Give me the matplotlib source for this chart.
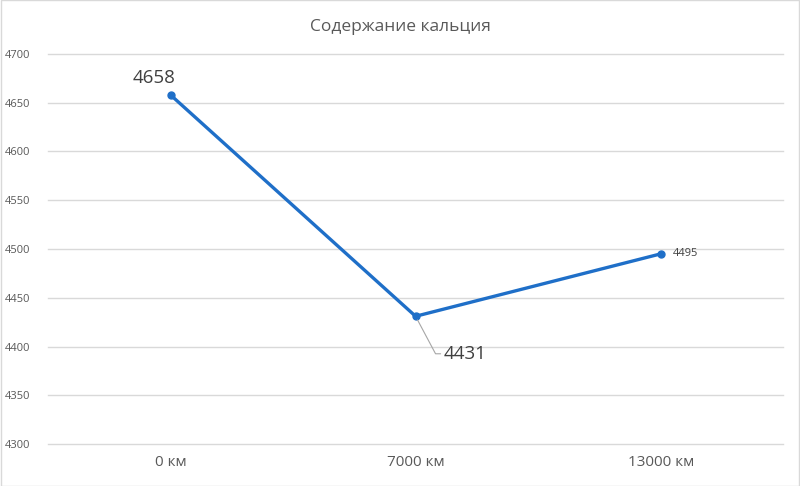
import matplotlib
matplotlib.use("Agg")
import matplotlib.pyplot as plt
from matplotlib.patches import Rectangle

categories = ["0 км", "7000 км", "13000 км"]
values = [4658, 4431, 4495]
yticks = [4300, 4350, 4400, 4450, 4500, 4550, 4600, 4650, 4700]
title = "Содержание кальция"

plt.rcParams['font.family'] = ['Open Sans', 'DejaVu Sans']

fig = plt.figure(figsize=(8, 4.86), dpi=100)
ax = fig.add_axes([0.06, 0.0864, 0.919, 0.8025])
x = [0.5, 1.5, 2.5]
ax.plot(x, values, color="#1f6fc8", lw=2.4, marker="o", ms=5, solid_capstyle="round", zorder=3)
ax.set_xlim(0, 3)
ax.set_ylim(4300, 4700)
ax.set_yticks(yticks)
ax.set_xticks(x)
ax.set_xticklabels(categories, fontsize=11, color="#595959")
ax.tick_params(axis='y', length=0, pad=13, labelsize=8, labelcolor="#595959")
ax.tick_params(axis='x', length=0, pad=8)
for lab in ax.get_yticklabels():
    lab.set_horizontalalignment('right')
ax.grid(axis='y', color="#d9d9d9", lw=1)
for gl in ax.get_ygridlines():
    gl.set_clip_on(False)
ax.set_axisbelow(True)
for s in ax.spines.values():
    s.set_visible(False)

ax.annotate(str(values[0]), (x[0], values[0]), xytext=(-12, 6), textcoords='offset points',
            fontsize=13.5, color="#404040", ha='center', va='bottom')
ax.annotate(str(values[1]), (x[1], values[1]), xytext=(20, -27), textcoords='offset points',
            fontsize=13.5, color="#404040", ha='left', va='center',
            arrowprops=dict(arrowstyle='-', color="#a6a6a6", lw=0.8,
                            connectionstyle="angle,angleA=0,angleB=-62,rad=0", shrinkA=0, shrinkB=3))
ax.annotate(str(values[2]), (x[2], values[2]), xytext=(9, 0), textcoords='offset points',
            fontsize=8, color="#404040", ha='left', va='center')

fig.text(0.5, 0.945, title, ha='center', va='center', fontsize=12.5, color="#595959")
fig.patches.append(Rectangle((0.001, 0.001), 0.998, 0.998, transform=fig.transFigure,
                             fill=False, edgecolor="#d9d9d9", lw=1))
fig.savefig("out.png", dpi=100)
